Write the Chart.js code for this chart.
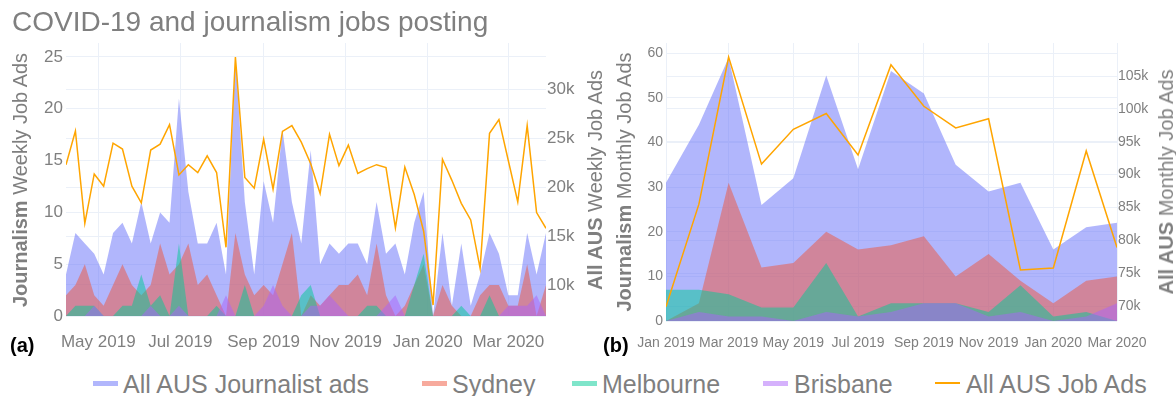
<!DOCTYPE html>
<html>
<head>
<meta charset="utf-8">
<script src="https://cdn.jsdelivr.net/npm/chart.js@4.4.1/dist/chart.umd.min.js"></script>
<style>
  html, body { margin: 0; padding: 0; background: #fff; }
  body { width: 1176px; height: 396px; position: relative; overflow: hidden;
         font-family: "Liberation Sans", Arial, sans-serif; color: #7f7f7f; }
  canvas { position: absolute; top: 0; }
  #weekly { left: 0; }
  #monthly { left: 600px; }
  .t { position: absolute; white-space: nowrap; }
  .title { left: 12px; top: 8px; font-size: 28px; line-height: 28px; }
  .yt { font-size: 20px; line-height: 20px; transform: translate(-50%, -50%) rotate(-90deg); }
  .tag { font-size: 20px; line-height: 20px; font-weight: bold; color: #000; }
  .leg { font-size: 25px; line-height: 25px; top: 372px; }
  .sw { position: absolute; top: 381px; width: 25px; height: 5px; }
  .swl { position: absolute; top: 382px; width: 25px; height: 2px; }
</style>
</head>
<body>
<canvas id="weekly" width="600" height="360"></canvas>
<canvas id="monthly" width="576" height="360"></canvas>

<div class="t title">COVID-19 and journalism jobs posting</div>

<div class="t yt" style="left:20px;top:180px"><b>Journalism</b> Weekly Job Ads</div>
<div class="t yt" style="left:595px;top:180px"><b>All AUS</b> Weekly Job Ads</div>
<div class="t yt" style="left:624px;top:182px"><b>Journalism</b> Monthly Job Ads</div>
<div class="t yt" style="left:1166px;top:182px"><b>All AUS</b> Monthly Job Ads</div>

<div class="t tag" style="left:10px;top:335px">(a)</div>
<div class="t tag" style="left:603px;top:335px">(b)</div>

<div class="sw" style="left:93px;background:rgba(99,110,250,0.5)"></div>
<div class="t leg" style="left:123px">All AUS Journalist ads</div>
<div class="sw" style="left:422px;background:rgba(239,85,59,0.5)"></div>
<div class="t leg" style="left:452px">Sydney</div>
<div class="sw" style="left:572px;background:rgba(0,204,150,0.5)"></div>
<div class="t leg" style="left:602px">Melbourne</div>
<div class="sw" style="left:763px;background:rgba(171,99,250,0.5)"></div>
<div class="t leg" style="left:794px">Brisbane</div>
<div class="swl" style="left:935px;background:#FFA500"></div>
<div class="t leg" style="left:966px">All AUS Job Ads</div>

<script>
// ---- weekly postings (week starting) ----
const weekDates = [
  '2019-04-07','2019-04-14','2019-04-21','2019-04-28',
  '2019-05-05','2019-05-12','2019-05-19','2019-05-26',
  '2019-06-02','2019-06-09','2019-06-16','2019-06-23','2019-06-30',
  '2019-07-07','2019-07-14','2019-07-21','2019-07-28',
  '2019-08-04','2019-08-11','2019-08-18','2019-08-25',
  '2019-09-01','2019-09-08','2019-09-15','2019-09-22','2019-09-29',
  '2019-10-06','2019-10-13','2019-10-20','2019-10-27',
  '2019-11-03','2019-11-10','2019-11-17','2019-11-24',
  '2019-12-01','2019-12-08','2019-12-15','2019-12-22','2019-12-29',
  '2020-01-05','2020-01-12','2020-01-19','2020-01-26',
  '2020-02-02','2020-02-09','2020-02-16','2020-02-23',
  '2020-03-01','2020-03-08','2020-03-15','2020-03-22','2020-03-29'
];
const wkAllJournalist = [4,8,7,6,4, 8,9,7,11,7, 10,9,21,12,7, 7,9,4,25,11, 4,13,9,18,11,
                         7,16,5,7,6, 7,7,5,11,6, 7,4,9,12,0, 8,1,7,1,4, 8,6,2,2,8, 4,8];
const wkSydney        = [2,3,5,2,1, 3,5,3,2,3, 7,4,5,7,3, 4,2,0,8,4, 2,3,2,5,8,
                         0,2,1,2,3, 3,4,2,7,2, 0,1,3,5,0, 3,1,0,0,2, 3,3,1,1,5, 0,3];
const wkMelbourne     = [0,1,1,1,0, 0,1,1,4,1, 2,0,7,0,0, 0,1,0,0,3, 0,0,0,0,0,
                         2,3,0,0,0, 0,0,1,1,0, 0,0,3,6,0, 0,0,1,0,0, 2,0,0,0,0, 0,0];
const wkBrisbane      = [0,0,0,1,0, 0,0,0,0,1, 0,0,1,0,0, 0,0,2,0,0, 0,1,3,1,0,
                         0,1,1,2,1, 0,0,0,0,1, 2,0,0,0,0, 0,0,0,0,0, 0,0,1,1,1, 2,0];
const wkAllJobs = [22300,25750,16300,21350,20100, 24500,23900,20100,18400,23800,
                   24400,26400,21250,22300,21500, 23200,21500,13850,33300,21000,
                   19900,24900,19800,25700,26300, 24600,22400,19350,25400,22200,
                   24300,21400,21900,22300,22000, 15850,22050,19250,15500,7950,
                   22850,20700,18350,16650,11700, 25500,26900,22700,18500,26300,
                   17400,15800];

// ---- monthly postings ----
const monthDates = ['2019-01-01','2019-02-01','2019-03-01','2019-04-01','2019-05-01',
                    '2019-06-01','2019-07-01','2019-08-01','2019-09-01','2019-10-01',
                    '2019-11-01','2019-12-01','2020-01-01','2020-02-01','2020-03-01'];
const moAllJournalist = [31,44,59,26,32,55,34,56,51,35,29,31,16,21,22];
const moSydney        = [0,4,31,12,13,20,16,17,19,10,15,9,4,9,10];
const moMelbourne     = [7,7,6,3,3,13,1,4,4,4,2,8,1,2,0];
const moBrisbane      = [0,2,1,1,0,2,1,2,4,4,1,2,0,1,4];
const moAllJobs = [69900,85500,107900,91600,96900,99300,93000,106700,100400,97100,
                   98500,75500,75800,93600,78900];

// ---- axis ticks ----
const weekTicksX  = ['2019-05-01','2019-07-01','2019-09-01','2019-11-01','2020-01-01','2020-03-01'];
const monthTicksX = ['2019-01-01','2019-03-01','2019-05-01','2019-07-01',
                     '2019-09-01','2019-11-01','2020-01-01','2020-03-01'];
const weekTicksLeft   = [0,5,10,15,20,25];
const weekTicksRight  = [10000,15000,20000,25000,30000];
const monthTicksLeft  = [0,10,20,30,40,50,60];
const monthTicksRight = [70000,75000,80000,85000,90000,95000,100000,105000];

const seriesNames = ['All AUS Journalist ads','Sydney','Melbourne','Brisbane','All AUS Job Ads'];

// ---- helpers ----
const MON = ['Jan','Feb','Mar','Apr','May','Jun','Jul','Aug','Sep','Oct','Nov','Dec'];
const day = s => Date.UTC(+s.slice(0,4), +s.slice(5,7) - 1, +s.slice(8,10)) / 864e5;
const monthLabel = v => { const d = new Date(v * 864e5); return MON[d.getUTCMonth()] + ' ' + d.getUTCFullYear(); };
const pts = (dates, vals) => dates.map((d, i) => ({ x: day(d), y: vals[i] }));
const setTicks = list => scale => { scale.ticks = list.map(v => ({ value: v })); };

const FONT = '"Liberation Sans", Arial, sans-serif';
const TXT = '#7f7f7f';
const GRID = '#EBF0F8';
const FILLS = ['rgba(99,110,250,0.5)','rgba(239,85,59,0.5)','rgba(0,204,150,0.5)','rgba(171,99,250,0.5)'];
const LINE = '#FFA500';

function areaSet(i, data) {
  return { label: seriesNames[i], data, yAxisID: 'y', fill: 'origin',
           backgroundColor: FILLS[i], borderColor: 'transparent', borderWidth: 0,
           pointRadius: 0, tension: 0, order: 4 - i };
}
function lineSet(data) {
  return { label: seriesNames[4], data, yAxisID: 'y2', fill: false,
           borderColor: LINE, borderWidth: 1.5, pointRadius: 0, tension: 0, order: 0 };
}

function panel(id, o) {
  const gridY = {
    color: GRID, drawTicks: false,
    lineWidth: c => (c.tick && c.tick.value === 0 ? 2 : 1)
  };
  return new Chart(document.getElementById(id), {
    type: 'line',
    data: { datasets: o.datasets },
    options: {
      responsive: false, animation: false, devicePixelRatio: 1,
      layout: { padding: { top: 43, left: 0, right: 0, bottom: 0 } },
      plugins: { legend: { display: false }, tooltip: { enabled: false }, title: { display: false } },
      scales: {
        x: {
          type: 'linear', min: o.xMin, max: o.xMax,
          afterBuildTicks: setTicks(o.xTicks),
          afterFit: s => { s.height = o.xHeight; },
          ticks: { callback: monthLabel, color: TXT, font: { family: FONT, size: o.font },
                   padding: o.xPad, maxRotation: 0, autoSkip: false },
          grid: { color: GRID, drawTicks: false },
          border: { display: false }
        },
        y: {
          position: 'left', min: 0, max: o.yMax,
          afterBuildTicks: setTicks(o.yTicks),
          afterFit: s => { s.width = o.leftW; },
          ticks: { color: TXT, font: { family: FONT, size: o.font }, padding: 3 },
          grid: gridY,
          border: { display: false }
        },
        y2: {
          position: 'right', min: o.y2Min, max: o.y2Max,
          afterBuildTicks: setTicks(o.y2Ticks),
          afterFit: s => { s.width = o.rightW; },
          ticks: { color: TXT, font: { family: FONT, size: o.font }, padding: 1,
                   callback: v => (v / 1000) + 'k' },
          grid: { color: GRID, drawTicks: false, drawOnChartArea: true },
          border: { display: false }
        }
      }
    }
  });
}

// (a) weekly
panel('weekly', {
  datasets: [
    areaSet(0, pts(weekDates, wkAllJournalist)),
    areaSet(1, pts(weekDates, wkSydney)),
    areaSet(2, pts(weekDates, wkMelbourne)),
    areaSet(3, pts(weekDates, wkBrisbane)),
    lineSet(pts(weekDates, wkAllJobs))
  ],
  xMin: day(weekDates[0]), xMax: day(weekDates[weekDates.length - 1]), xTicks: weekTicksX.map(day),
  yMax: 26.35, yTicks: weekTicksLeft,
  y2Min: 6830, y2Max: 34740, y2Ticks: weekTicksRight,
  font: 17, xPad: 16, xHeight: 44, leftW: 66, rightW: 54
});

// (b) monthly
panel('monthly', {
  datasets: [
    areaSet(0, pts(monthDates, moAllJournalist)),
    areaSet(1, pts(monthDates, moSydney)),
    areaSet(2, pts(monthDates, moMelbourne)),
    areaSet(3, pts(monthDates, moBrisbane)),
    lineSet(pts(monthDates, moAllJobs))
  ],
  xMin: day(monthDates[0]), xMax: day(monthDates[monthDates.length - 1]), xTicks: monthTicksX.map(day),
  yMax: 62.3, yTicks: monthTicksLeft,
  y2Min: 67720, y2Max: 110030, y2Ticks: monthTicksRight,
  font: 14, xPad: 14, xHeight: 39, leftW: 66, rightW: 59
});
</script>
</body>
</html>
